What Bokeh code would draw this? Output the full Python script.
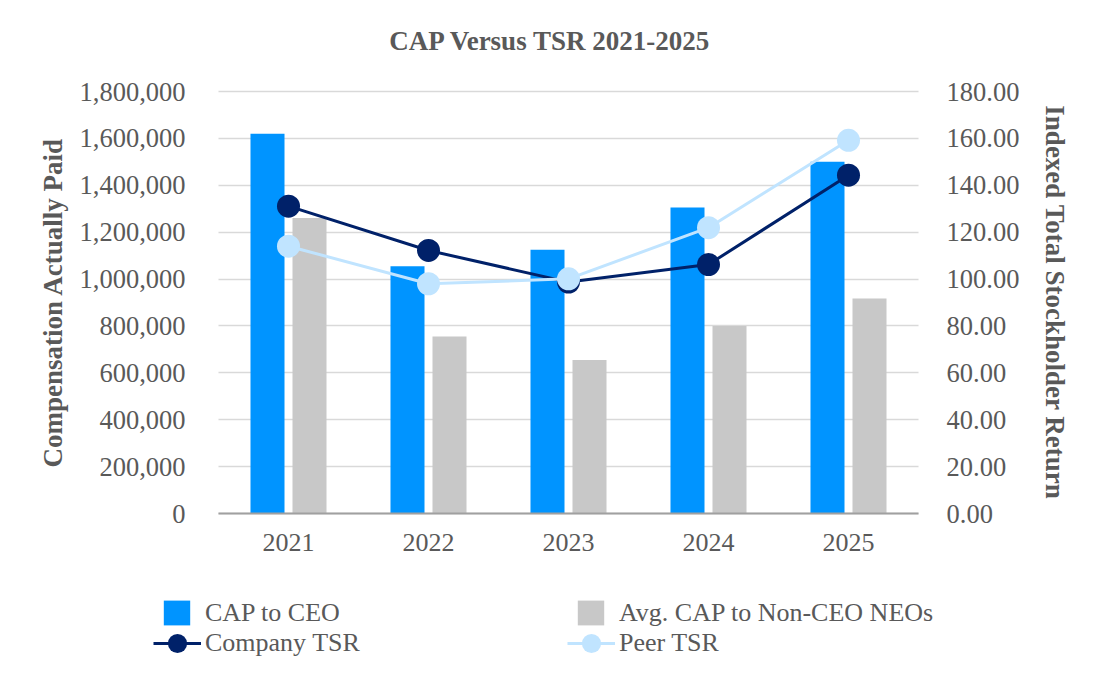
from bokeh.plotting import figure
from bokeh.models import (ColumnDataSource, FactorRange, Range1d, LinearAxis, FixedTicker,
                          NumeralTickFormatter, Legend, LegendItem, Label)
from bokeh.transform import dodge
from bokeh.embed import file_html
from bokeh.resources import INLINE

# ---- data -------------------------------------------------------------
years = ["2021", "2022", "2023", "2024", "2025"]
cap_ceo = [1620000, 1055000, 1125000, 1305000, 1500000]
cap_non_ceo = [1260000, 755000, 655000, 800000, 917000]
company_tsr = [131.1, 112.2, 98.7, 106.2, 144.3]
peer_tsr = [114.0, 98.0, 100.1, 121.9, 159.2]

cap_ticks = [0, 200000, 400000, 600000, 800000, 1000000, 1200000, 1400000, 1600000, 1800000]
tsr_ticks = [0, 20, 40, 60, 80, 100, 120, 140, 160, 180]

# ---- styling ------------------------------------------------------------
FONT = "Liberation Serif"
TEXT = "#595959"
BLUE = "#0094FF"
GREY = "#C8C8C8"
NAVY = "#002169"
LIGHT = "#C0E4FF"

# ---- layout (pixels) ----------------------------------------------------
W, H = 1100, 700
CAT_PX = 140          # width of one year slot
PAD_CATS = 1.3        # free slots on each side of the years
LEFT_PX = W - int(round((len(years) + 2 * PAD_CATS) * CAT_PX))
ZERO_PX = 513         # canvas row of the value 0
TOP_PX = 91           # canvas row of the top tick


def value_range(vmax):
    per_px = vmax / (ZERO_PX - TOP_PX)
    return Range1d(-(H - ZERO_PX) * per_px, vmax + TOP_PX * per_px)


src = ColumnDataSource(dict(year=years, ceo=cap_ceo, neo=cap_non_ceo,
                            comp=company_tsr, peer=peer_tsr))

p = figure(width=W, height=H, title=None,
           x_range=FactorRange(*years, range_padding=PAD_CATS,
                               range_padding_units="absolute"),
           y_range=value_range(cap_ticks[-1]),
           output_backend="svg", toolbar_location=None,
           min_border_left=LEFT_PX, min_border_right=0,
           min_border_top=0, min_border_bottom=0)
p.extra_y_ranges = {"tsr": value_range(tsr_ticks[-1])}
p.outline_line_color = None
p.background_fill_color = "white"
p.border_fill_color = "white"

# grid
p.xgrid.grid_line_color = None
yg = p.ygrid[0]
yg.ticker = FixedTicker(ticks=cap_ticks)
yg.grid_line_color = "#D9D9D9"
yg.grid_line_width = 1.5
if hasattr(yg, "cross_bounds"):
    yg.cross_bounds = (0, len(years))
else:
    yg.grid_line_color = None
    p.segment(x0=0, x1=len(years), y0=cap_ticks, y1=cap_ticks,
              line_color="#D9D9D9", line_width=1.5, level="underlay")

# left axis, pinned to the left edge of the first year
ly = p.yaxis[0]
ly.fixed_location = 0
ly.bounds = (0, cap_ticks[-1])
ly.ticker = FixedTicker(ticks=cap_ticks)
ly.formatter = NumeralTickFormatter(format="0,0")
ly.axis_label = "Compensation Actually Paid"
ly.major_label_standoff = 33
ly.axis_label_standoff = 9

# right axis, pinned to the right edge of the last year
ry = LinearAxis(y_range_name="tsr", ticker=FixedTicker(ticks=tsr_ticks),
                formatter=NumeralTickFormatter(format="0.00"),
                axis_label="Indexed Total Stockholder Return",
                fixed_location=len(years), bounds=(0, tsr_ticks[-1]))
ry.major_label_standoff = 28
ry.axis_label_standoff = 18
p.add_layout(ry, "right")

for ax in (ly, ry):
    ax.axis_line_color = None
    ax.major_tick_line_color = None
    ax.minor_tick_line_color = None
    ax.major_tick_in = 0
    ax.major_tick_out = 0
    ax.major_label_text_font = FONT
    ax.major_label_text_font_size = "26.5px"
    ax.major_label_text_color = TEXT
    ax.axis_label_text_font = FONT
    ax.axis_label_text_font_size = "27px"
    ax.axis_label_text_font_style = "bold"
    ax.axis_label_text_color = TEXT

# bottom axis on the zero line
bx = p.xaxis[0]
bx.fixed_location = 0
bx.bounds = (0, len(years))
bx.axis_line_color = "#A0A0A0"
bx.axis_line_width = 2
bx.major_tick_line_color = None
bx.major_tick_in = 0
bx.major_tick_out = 0
bx.major_label_standoff = 20
bx.major_label_text_font = FONT
bx.major_label_text_font_size = "26px"
bx.major_label_text_color = TEXT

# title
p.add_layout(Label(x=550 - LEFT_PX, y=H - 40, x_units="screen", y_units="screen",
                   text="CAP Versus TSR 2021-2025", text_align="center",
                   text_baseline="alphabetic", text_font=FONT, text_font_size="27px",
                   text_font_style="bold", text_color=TEXT))

# bars
r_ceo = p.vbar(x=dodge("year", -0.15, range=p.x_range), top="ceo", width=0.243,
               source=src, fill_color=BLUE, line_color=None)
r_neo = p.vbar(x=dodge("year", 0.15, range=p.x_range), top="neo", width=0.243,
               source=src, fill_color=GREY, line_color=None)

# TSR lines
r_cl = p.line("year", "comp", y_range_name="tsr", source=src,
              line_color=NAVY, line_width=3)
r_cm = p.scatter("year", "comp", y_range_name="tsr", source=src,
                 size=23, fill_color=NAVY, line_color=None)
r_pl = p.line("year", "peer", y_range_name="tsr", source=src,
              line_color=LIGHT, line_width=3)
r_pm = p.scatter("year", "peer", y_range_name="tsr", source=src,
                 size=23, fill_color=LIGHT, line_color=None)

# legend: bar row and line row
common = dict(orientation="horizontal", spacing=0, padding=0, margin=0,
              border_line_color=None, background_fill_alpha=0,
              label_text_font=FONT, label_text_font_size="26px",
              label_text_color=TEXT)

bar_legend = Legend(items=[LegendItem(label="CAP to CEO", renderers=[r_ceo]),
                           LegendItem(label="Avg. CAP to Non-CEO NEOs", renderers=[r_neo])],
                    location=(160 - LEFT_PX, H - 628), glyph_width=33, glyph_height=31,
                    label_standoff=12, label_width=369, **common)
line_legend = Legend(items=[LegendItem(label="Company TSR", renderers=[r_cl, r_cm]),
                            LegendItem(label="Peer TSR", renderers=[r_pl, r_pm])],
                     location=(153 - LEFT_PX, H - 668), glyph_width=48, glyph_height=50,
                     label_standoff=4, label_width=362, **common)
p.add_layout(bar_legend)
p.add_layout(line_legend)

open("out.html", "w").write(file_html(p, INLINE))
